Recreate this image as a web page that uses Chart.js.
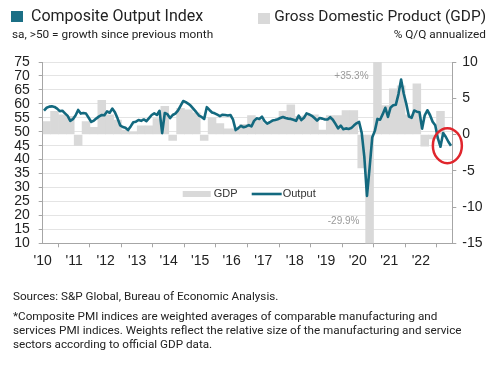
<!DOCTYPE html>
<html><head><meta charset="utf-8">
<script src="https://cdn.jsdelivr.net/npm/chart.js@4"></script>
<style>
body{margin:0;background:#fff;}
#wrap{position:relative;width:500px;height:366px;overflow:hidden;font-family:Roboto,"Liberation Sans",Arial,sans-serif;color:#222;}
canvas{position:absolute;left:0;top:0;}
.t{position:absolute;white-space:nowrap;}
</style></head><body>
<div id="wrap">
<canvas id="c" width="500" height="366"></canvas>
<div class="t" style="left:11px;top:11px;width:12px;height:11px;background:#1b6f85"></div>
<div class="t" style="left:31px;top:6px;font-size:16px;">Composite Output Index</div>
<div class="t" style="left:12px;top:27px;font-size:11.8px;">sa, &gt;50 = growth since previous month</div>
<div class="t" style="left:258px;top:13px;width:12px;height:11px;background:#d9d9d9"></div>
<div class="t" style="right:14px;top:7px;font-size:15.4px;">Gross Domestic Product (GDP)</div>
<div class="t" style="right:14px;top:27px;font-size:11.8px;">% Q/Q annualized</div>
<div class="t" style="left:13px;top:289px;font-size:11.7px;">Sources: S&amp;P Global, Bureau of Economic Analysis.</div>
<div class="t" style="left:13px;top:309px;font-size:11.7px;line-height:14px;">*Composite PMI indices are weighted averages of comparable manufacturing and<br>services PMI indices. Weights reflect the relative size of the manufacturing and service<br>sectors according to official GDP data.</div>
</div>
<script>
const startYear = 2010;
const yearLabels = ["'10","'11","'12","'13","'14","'15","'16","'17","'18","'19","'20","'21","'22"];
// Composite Output Index, monthly Jan 2010 - Dec 2022
const pmi2010 = [57.6,58.6,59.0,59.1,58.9,58.3,57.4,57.5,56.6,55.7,53.9,54.5];
const pmi2011 = [55.8,57.8,56.5,56.7,56.5,55.0,53.5,54.0,54.8,55.5,56.0,55.9];
const pmi2012 = [57.3,56.8,58.3,57.0,54.8,52.3,51.7,51.4,50.6,51.9,53.4,53.6];
const pmi2013 = [54.2,53.9,54.4,53.8,54.9,56.0,56.6,56.0,57.5,49.5,56.7,56.3];
const pmi2014 = [54.9,56.0,56.5,57.6,59.3,61.0,60.6,60.0,59.2,58.1,57.0,55.8];
const pmi2015 = [55.3,54.6,58.8,57.8,56.9,56.6,56.1,55.6,56.1,56.0,55.8,56.0];
const pmi2016 = [54.3,50.6,51.3,52.1,51.6,51.9,52.4,51.9,53.9,54.8,54.6,55.4];
const pmi2017 = [53.8,52.9,53.4,54.0,54.2,54.5,54.9,55.3,54.9,54.7,54.6,54.3];
const pmi2018 = [53.9,55.8,54.2,55.0,56.6,56.2,55.7,54.9,54.0,54.9,54.7,54.4];
const pmi2019 = [54.4,55.2,54.3,52.8,51.2,52.2,50.9,51.2,51.0,51.3,52.2,53.0];
const pmi2020 = [53.5,49.6,40.9,27.0,37.0,47.9,50.3,54.6,54.3,56.3,58.6,55.3];
const pmi2021 = [58.7,59.5,59.7,63.5,68.7,63.7,59.9,55.4,55.0,57.6,57.2,57.0];
const pmi2022 = [51.1,55.9,57.7,56.0,53.6,52.3,47.7,44.6,49.5,48.2,46.4,45.0];
const pmi = [].concat(pmi2010,pmi2011,pmi2012,pmi2013,pmi2014,pmi2015,pmi2016,pmi2017,pmi2018,pmi2019,pmi2020,pmi2021,pmi2022);
// GDP % Q/Q annualized, quarterly Q1 2010 - Q3 2022
const gdp = [1.8,3.2,2.7,2.5, -1.5,1.8,1.0,4.7, 2.7,2.0,0.6,0.3, 1.2,1.2,2.2,3.9,
             -0.8,3.6,3.4,3.0, -0.8,2.3,1.5,0.8, 0.8,1.4,2.6,2.0, 1.5,2.0,3.2,4.1,
             2.5,2.6,2.7,0.6, 2.6,2.6,3.3,3.3, -4.6,-29.9,35.3,4.0, 6.3,6.7,2.7,7.0,
             -1.6,-0.6,3.2];

const TEAL = '#13697f', GREY = '#d9d9d9', AXIS = '#a6a6a6';
const tickFont = {family:'"Liberation Sans", Arial, sans-serif', size:14};

const pmiPts = pmi.map((v,i)=>({x:startYear+(i+0.5)/12, y:v}));
const gdpPts = gdp.map((v,i)=>({x:startYear+(i*3+1.5)/12, y:v}));

const extras = {
  id:'extras',
  afterDraw(c){
    const {ctx, chartArea:a} = c;
    const xs = c.scales.x, yL = c.scales.yL, yR = c.scales.yR;
    ctx.save();
    // out-of-range GDP labels
    ctx.font = '10px "Liberation Sans", Arial, sans-serif';
    ctx.fillStyle = '#9a9a9a';
    ctx.textAlign = 'center'; ctx.textBaseline = 'middle';
    gdpPts.forEach(p=>{
      if (p.y > yR.max || p.y < yR.min){
        const x = xs.getPixelForValue(p.x) - 26;
        const y = p.y > yR.max ? a.top + 14 : a.bottom - 22;
        ctx.fillText((p.y>0?'+':'') + p.y.toFixed(1) + '%', x, y);
      }
    });
    // inner legend
    const ly = a.top + 132;
    ctx.font = '11px "Liberation Sans", Arial, sans-serif';
    ctx.textAlign = 'left';
    ctx.fillStyle = GREY;
    ctx.fillRect(a.left + 140, ly - 3, 28, 6);
    ctx.fillStyle = '#333';
    ctx.fillText(c.data.datasets[1].label, a.left + 171, ly);
    ctx.strokeStyle = TEAL; ctx.lineWidth = 2.6;
    ctx.beginPath(); ctx.moveTo(a.left + 209, ly); ctx.lineTo(a.left + 239, ly); ctx.stroke();
    ctx.fillText(c.data.datasets[0].label, a.left + 240, ly);
    // red circle around latest readings
    const n = pmiPts.length;
    const xc = xs.getPixelForValue(pmiPts[n-2].x) - 1;
    const yc = yL.getPixelForValue(Math.min(pmi[n-1], pmi[n-2], pmi[n-3]));
    ctx.strokeStyle = '#e0262d'; ctx.lineWidth = 2.5;
    ctx.beginPath(); ctx.ellipse(xc, yc, 14.5, 17.5, 0, 0, Math.PI*2); ctx.stroke();
    ctx.restore();
  }
};

new Chart(document.getElementById('c'), {
  type:'bar',
  data:{datasets:[
    {type:'line', label:'Output', data:pmiPts, yAxisID:'yL', borderColor:TEAL, borderWidth:2.6,
     pointRadius:0, tension:0, order:0, borderJoinStyle:'round'},
    {type:'bar', label:'GDP', data:gdpPts, yAxisID:'yR', backgroundColor:GREY,
     barPercentage:1, categoryPercentage:1, order:1}
  ]},
  options:{
    responsive:false, animation:false, devicePixelRatio:1,
    layout:{padding:{left:0,right:0,top:62,bottom:0}, autoPadding:false},
    plugins:{legend:{display:false}, tooltip:{enabled:false}},
    scales:{
      x:{type:'linear', min:2010, max:2023, offset:false, position:'bottom',
         afterFit:s=>{s.height = 122.7;},
         ticks:{stepSize:1, autoSkip:false, maxRotation:0, padding:5, color:'#222', font:tickFont,
                callback:v=>yearLabels[v-startYear] ?? ''},
         grid:{drawOnChartArea:false, drawTicks:true, tickLength:4, color:AXIS},
         border:{color:AXIS}},
      yL:{type:'linear', position:'left', min:10, max:75,
         afterFit:s=>{s.width = 42.7;},
         ticks:{stepSize:5, autoSkip:false, padding:9, color:'#222', font:tickFont},
         grid:{color:'#e4e4e4', tickLength:4, tickColor:AXIS},
         border:{color:AXIS}},
      yR:{type:'linear', position:'right', min:-15, max:10,
         afterFit:s=>{s.width = 47.7;},
         ticks:{stepSize:5, autoSkip:false, padding:6, color:'#222', font:tickFont},
         grid:{drawOnChartArea:false, tickLength:4, color:AXIS},
         border:{color:AXIS}}
    }
  },
  plugins:[extras]
});
</script>
</body></html>
